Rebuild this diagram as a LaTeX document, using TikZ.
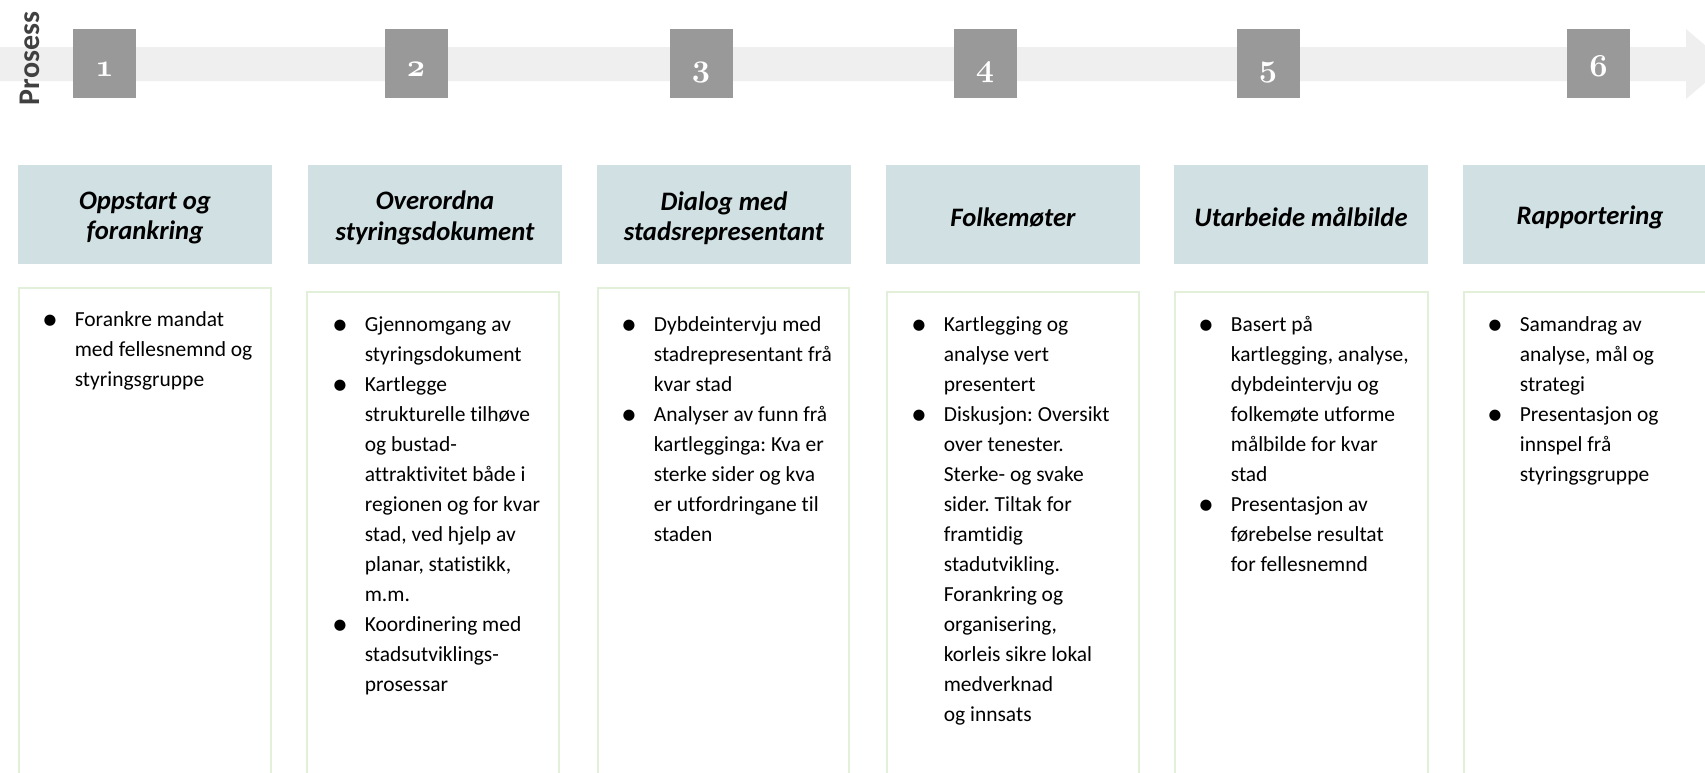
\documentclass[tikz,border=0pt]{standalone}
\usepackage{fontspec}
\setmainfont{Carlito}[Ligatures=NoCommon]
\newfontfamily\bulletfont{DejaVu Sans}
\usetikzlibrary{positioning}
\frenchspacing

\definecolor{bandgray}{RGB}{239,239,239}
\definecolor{numgray}{RGB}{153,153,153}
\definecolor{headblue}{RGB}{208,224,227}
\definecolor{boxgreen}{RGB}{226,239,217}
\definecolor{prosessgray}{RGB}{64,64,64}

\newcommand{\blt}{\raisebox{1.2pt}{\bulletfont\fontsize{11}{11}\selectfont ●}}
\newcommand{\oldnum}[1]{\scalebox{1.15}{\fontencoding{OML}\fontfamily{cmm}\fontseries{b}\fontshape{it}\fontsize{20.74}{20.74}\selectfont #1}}

\tikzset{
  every picture/.style={line width=0.75pt},
  numbox/.style={fill=numgray, text=white, inner sep=0, minimum width=47.25pt, minimum height=51.75pt,
    text height=18.8pt, text depth=0pt},
  headfill/.style={fill=headblue},
  header/.style={inner sep=0, align=center, font=\bfseries\itshape\fontsize{20}{22.8}\selectfont},
  bodybox/.style={draw=boxgreen, line width=1.5pt},
  bodytext/.style={inner sep=0, anchor=north west, font=\fontsize{16.1}{22.5}\selectfont},
}

\begin{document}
\begin{tikzpicture}[x=0.75pt,y=0.75pt,yscale=-1,xscale=1]
	\clip (0,0) rectangle (1705,772);
	\fill[white] (0,0) rectangle (1705,772);

	%Arrow band
	\fill[bandgray] (0,47) -- (1686,47) -- (1686,29) -- (1727,64) -- (1686,99) -- (1686,81) -- (0,81) -- cycle;

	% Text Node
	\node[rotate=90, text=prosessgray, font=\bfseries\fontsize{22.5}{22.5}\selectfont] (prosess) at (30,58.5) {Prosess};

	%Number boxes
	\node[numbox] (n1) at (104.5,63.5) {\oldnum{1}};
	\node[numbox] (n2) at (416,63.5) {\oldnum{2}};
	\node[numbox] (n3) at (701,63.5) {\oldnum{3}};
	\node[numbox] (n4) at (985,63.5) {\oldnum{4}};
	\node[numbox] (n5) at (1268,63.5) {\oldnum{5}};
	\node[numbox] (n6) at (1598.5,63.5) {\oldnum{6}};

	%Headers
	\fill[headfill] (18,165) rectangle (272,264);
	\fill[headfill] (308,165) rectangle (562,264);
	\fill[headfill] (597,165) rectangle (851,264);
	\fill[headfill] (886,165) rectangle (1140,264);
	\fill[headfill] (1174,165) rectangle (1428,264);
	\fill[headfill] (1463,165) rectangle (1717,264);
	% Text Node
	\node[header] (h1) at (145,218) {Oppstart og\\forankring};
	\node[header] (h2) at (435,218) {Overordna\\styringsdokument};
	\node[header] (h3) at (724,218) {Dialog med\\stadsrepresentant};
	\node[header] (h4) at (1013,217) {Folkemøter};
	\node[header] (h5) at (1301,217) {Utarbeide målbilde};
	\node[header] (h6) at (1590,217) {Rapportering};

	%Content boxes
	\draw[bodybox] (19,288) rectangle (271,790);
	\draw[bodybox] (307,292) rectangle (559,790);
	\draw[bodybox] (598,288) rectangle (849,790);
	\draw[bodybox] (887,292) rectangle (1139,790);
	\draw[bodybox] (1175,292) rectangle (1428,790);
	\draw[bodybox] (1464,292) rectangle (1720,790);

	% Text Node
	\node[bodytext] (t1) at (43,305) {\begin{tabular}{@{}p{23.5pt}@{}l@{}}
	\blt & Forankre mandat\\
	 & med fellesnemnd og\\
	 & styringsgruppe
	\end{tabular}};
	% Text Node
	\node[bodytext] (t2) at (333,310) {\begin{tabular}{@{}p{23.5pt}@{}l@{}}
	\blt & Gjennomgang av\\
	 & styringsdokument\\
	\blt & Kartlegge\\
	 & strukturelle tilhøve\\
	 & og bustad-\\
	 & attraktivitet både i\\
	 & regionen og for kvar\\
	 & stad, ved hjelp av\\
	 & planar, statistikk,\\
	 & m.m.\\
	\blt & Koordinering med\\
	 & stadsutviklings-\\
	 & prosessar
	\end{tabular}};
	% Text Node
	\node[bodytext] (t3) at (622,310) {\begin{tabular}{@{}p{23.5pt}@{}l@{}}
	\blt & Dybdeintervju med\\
	 & stadrepresentant frå\\
	 & kvar stad\\
	\blt & Analyser av funn frå\\
	 & kartlegginga: Kva er\\
	 & sterke sider og kva\\
	 & er utfordringane til\\
	 & staden
	\end{tabular}};
	% Text Node
	\node[bodytext] (t4) at (912,310) {\begin{tabular}{@{}p{23.5pt}@{}l@{}}
	\blt & Kartlegging og\\
	 & analyse vert\\
	 & presentert\\
	\blt & Diskusjon: Oversikt\\
	 & over tenester.\\
	 & Sterke- og svake\\
	 & sider. Tiltak for\\
	 & framtidig\\
	 & stadutvikling.\\
	 & Forankring og\\
	 & organisering,\\
	 & korleis sikre lokal\\
	 & medverknad\\
	 & og innsats
	\end{tabular}};
	% Text Node
	\node[bodytext] (t5) at (1199,310) {\begin{tabular}{@{}p{23.5pt}@{}l@{}}
	\blt & Basert på\\
	 & kartlegging, analyse,\\
	 & dybdeintervju og\\
	 & folkemøte utforme\\
	 & målbilde for kvar\\
	 & stad\\
	\blt & Presentasjon av\\
	 & førebelse resultat\\
	 & for fellesnemnd
	\end{tabular}};
	% Text Node
	\node[bodytext] (t6) at (1488,310) {\begin{tabular}{@{}p{23.5pt}@{}l@{}}
	\blt & Samandrag av\\
	 & analyse, mål og\\
	 & strategi\\
	\blt & Presentasjon og\\
	 & innspel frå\\
	 & styringsgruppe
	\end{tabular}};

\end{tikzpicture}
\end{document}
